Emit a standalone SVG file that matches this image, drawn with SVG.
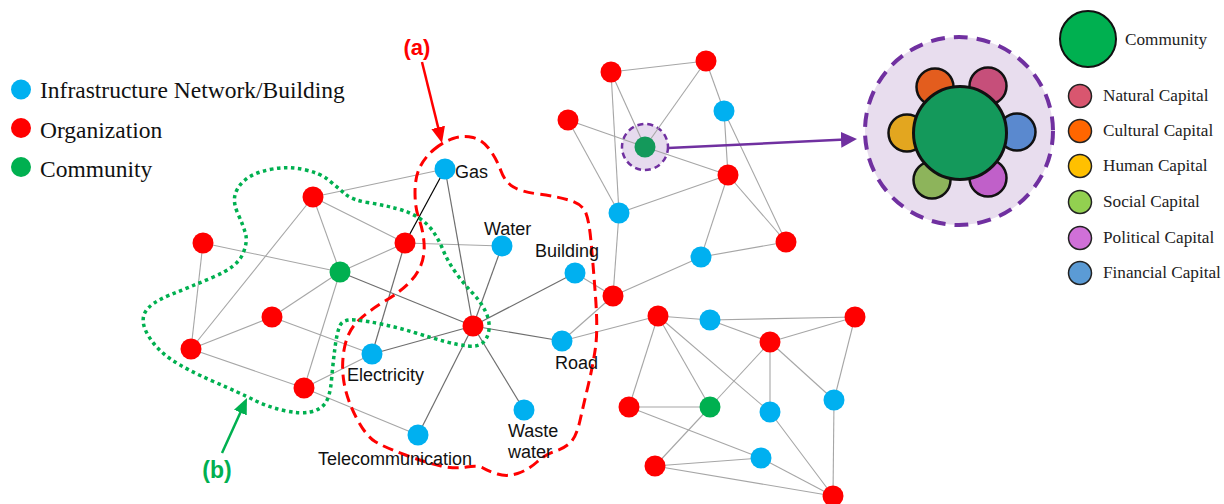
<svg xmlns="http://www.w3.org/2000/svg" width="1224" height="504" viewBox="0 0 1224 504">
<style>
.e{stroke:#A6A6A6;stroke-width:1.1;fill:none}
.d{stroke:#6E6E6E;stroke-width:1.2;fill:none}
.k{stroke:#000;stroke-width:1.2;fill:none}
.org{fill:#FF0000}
.inf{fill:#00B0F0}
.com{fill:#00B050}
.lbl{font-family:"Liberation Sans",Arial,sans-serif;font-size:18px;fill:#111}
.leg{font-family:"Liberation Serif","Times New Roman",serif;font-size:23.5px;fill:#111}
.leg2{font-family:"Liberation Serif","Times New Roman",serif;font-size:17.2px;fill:#222}
.cap{stroke:#111;stroke-width:2.5}
.lc{stroke:#222;stroke-width:1.5}
</style>
<defs>
<marker id="ahR" viewBox="0 0 16 14" refX="4" refY="7" markerWidth="16" markerHeight="14" markerUnits="userSpaceOnUse" orient="auto"><path d="M0,0 L16,7 L0,14 z" fill="#FF0000"/></marker>
<marker id="ahG" viewBox="0 0 16 14" refX="4" refY="7" markerWidth="16" markerHeight="14" markerUnits="userSpaceOnUse" orient="auto"><path d="M0,0 L16,7 L0,14 z" fill="#00B050"/></marker>
<marker id="ahP" viewBox="0 0 16 16" refX="4" refY="8" markerWidth="16" markerHeight="16" markerUnits="userSpaceOnUse" orient="auto"><path d="M0,0 L16,8 L0,16 z" fill="#7030A0"/></marker>
</defs>
<rect width="1224" height="504" fill="#fff"/>

<g id="legend">
<circle cx="21" cy="89.5" r="10" class="inf"/>
<text x="40" y="98" class="leg">Infrastructure Network/Building</text>
<circle cx="21" cy="128" r="10" class="org"/>
<text x="40" y="138" class="leg">Organization</text>
<circle cx="21" cy="167" r="10" class="com"/>
<text x="40" y="177" class="leg">Community</text>
</g>

<g id="halo">
<circle cx="645" cy="147" r="23" fill="#E6DAEE" stroke="#7030A0" stroke-width="2.5" stroke-dasharray="6 4"/>
</g>

<g id="connectors">
<line class="e" x1="313" y1="197" x2="405" y2="243"/>
<line class="e" x1="313" y1="197" x2="340" y2="272"/>
<line class="e" x1="313" y1="197" x2="191" y2="349"/>
<line class="e" x1="313" y1="197" x2="445" y2="169"/>
<line class="e" x1="203" y1="243" x2="340" y2="272"/>
<line class="e" x1="203" y1="243" x2="191" y2="349"/>
<line class="e" x1="340" y1="272" x2="405" y2="243"/>
<line class="e" x1="340" y1="272" x2="272" y2="317"/>
<line class="e" x1="340" y1="272" x2="304" y2="388"/>
<line class="e" x1="272" y1="317" x2="191" y2="349"/>
<line class="e" x1="272" y1="317" x2="372" y2="354"/>
<line class="e" x1="191" y1="349" x2="304" y2="388"/>
<line class="d" x1="405" y1="243" x2="372" y2="354"/>
<line class="e" x1="304" y1="388" x2="372" y2="354"/>
<line class="e" x1="304" y1="388" x2="418" y2="435"/>
<line class="e" x1="405" y1="243" x2="502" y2="246"/>
<line class="k" x1="445" y1="169" x2="405" y2="243"/>
<line class="d" x1="340" y1="272" x2="473" y2="326"/>
<line class="d" x1="473" y1="326" x2="372" y2="354"/>
<line class="d" x1="473" y1="326" x2="575" y2="273"/>
<line class="d" x1="473" y1="326" x2="562" y2="341"/>
<line class="d" x1="473" y1="326" x2="418" y2="435"/>
<line class="d" x1="473" y1="326" x2="524" y2="410"/>
<line class="d" x1="473" y1="326" x2="445" y2="169"/>
<line class="d" x1="473" y1="326" x2="502" y2="246"/>
<line class="e" x1="611" y1="72" x2="706" y2="61"/>
<line class="e" x1="611" y1="72" x2="645" y2="147"/>
<line class="e" x1="611" y1="72" x2="619" y2="213"/>
<line class="e" x1="706" y1="61" x2="645" y2="147"/>
<line class="e" x1="706" y1="61" x2="724" y2="111"/>
<line class="e" x1="568" y1="120" x2="645" y2="147"/>
<line class="e" x1="568" y1="120" x2="619" y2="213"/>
<line class="e" x1="645" y1="147" x2="728" y2="175"/>
<line class="e" x1="724" y1="111" x2="728" y2="175"/>
<line class="e" x1="724" y1="111" x2="786" y2="242"/>
<line class="e" x1="728" y1="175" x2="619" y2="213"/>
<line class="e" x1="728" y1="175" x2="786" y2="242"/>
<line class="e" x1="728" y1="175" x2="701" y2="257"/>
<line class="e" x1="701" y1="257" x2="786" y2="242"/>
<line class="e" x1="619" y1="213" x2="613" y2="296"/>
<line class="e" x1="701" y1="257" x2="613" y2="296"/>
<line class="e" x1="575" y1="273" x2="613" y2="296"/>
<line class="e" x1="562" y1="341" x2="613" y2="296"/>
<line class="e" x1="562" y1="341" x2="658" y2="316"/>
<line class="e" x1="658" y1="316" x2="710" y2="320"/>
<line class="e" x1="658" y1="316" x2="629" y2="407"/>
<line class="e" x1="658" y1="316" x2="710" y2="407"/>
<line class="e" x1="658" y1="316" x2="770" y2="412"/>
<line class="e" x1="710" y1="320" x2="855" y2="317"/>
<line class="e" x1="710" y1="320" x2="770" y2="342"/>
<line class="e" x1="770" y1="342" x2="855" y2="317"/>
<line class="e" x1="855" y1="317" x2="834" y2="400"/>
<line class="e" x1="770" y1="342" x2="710" y2="407"/>
<line class="e" x1="770" y1="342" x2="770" y2="412"/>
<line class="e" x1="770" y1="342" x2="834" y2="400"/>
<line class="e" x1="629" y1="407" x2="710" y2="407"/>
<line class="e" x1="629" y1="407" x2="761" y2="458"/>
<line class="e" x1="710" y1="407" x2="655" y2="466"/>
<line class="e" x1="655" y1="466" x2="761" y2="458"/>
<line class="e" x1="655" y1="466" x2="833" y2="496"/>
<line class="e" x1="761" y1="458" x2="833" y2="496"/>
<line class="e" x1="770" y1="412" x2="833" y2="496"/>
<line class="e" x1="834" y1="400" x2="833" y2="496"/>
<line stroke="#7030A0" stroke-width="2.5" x1="668" y1="148" x2="845" y2="139.6" marker-end="url(#ahP)"/>
<line stroke="#FF0000" stroke-width="2.5" x1="422" y1="62" x2="439.1" y2="131.3" marker-end="url(#ahR)"/>
<line stroke="#00B050" stroke-width="2.5" x1="222" y1="453" x2="242" y2="408.9" marker-end="url(#ahG)"/>
</g>

<g id="region-a">
<path fill="none" stroke="#FF0000" stroke-width="3" stroke-dasharray="11 6" d="M434,149.5 Q443,142 453,138.5 Q463,135 473,137.5 Q483,140 490,150 Q497,160 501,171 Q505,182 513.5,187 Q522,192 538.5,194 Q555,196 568.5,200 Q582,204 585.5,212 Q589,220 591,241.5 Q593,263 595.5,296.5 Q598,330 595.5,347.5 Q593,365 588.5,384 Q584,403 580,420.5 Q576,438 569.5,443.5 Q563,449 554.5,451.5 Q546,454 537,462 Q528,470 517.5,473.5 Q507,477 497.5,474 Q488,471 483,468 Q478,465 466.5,467 Q455,469 441,466 Q427,463 405.5,455 Q384,447 375,441.5 Q366,436 356.5,418 Q347,400 344,382.5 Q341,365 344.5,347.5 Q348,330 359,320 Q370,310 385,301 Q400,292 408.5,283.5 Q417,275 421,265 Q425,255 424,242.5 Q423,230 419,219 Q415,208 415,192.5 Q415,177 420,167 Q425,157 434,149.5 Z"/>
</g>
<g id="region-b">
<path fill="none" stroke="#00B050" stroke-width="3.5" stroke-dasharray="3.5 3.5" d="M270,169.5 Q287,166 303.5,169.5 Q320,173 328.5,180 Q337,187 344.5,193.5 Q352,200 367.5,202.5 Q383,205 396.5,208.5 Q410,212 419,218 Q428,224 433.5,232 Q439,240 443.5,251 Q448,262 456,273 Q464,284 472.5,293 Q481,302 485.5,311.5 Q490,321 489,329.5 Q488,338 483,342.5 Q478,347 468,346 Q458,345 445,341.5 Q432,338 416,333 Q400,328 383.5,324.5 Q367,321 355,320 Q343,319 340,325.5 Q337,332 335,347.5 Q333,363 331.5,380 Q330,397 325,403.5 Q320,410 310,412 Q300,414 284,410.5 Q268,407 254,400 Q240,393 213.5,381.5 Q187,370 172,360 Q157,350 148.5,336 Q140,322 145,312.5 Q150,303 170,295 Q190,287 213.5,277 Q237,267 242.5,254.5 Q248,242 245.5,233.5 Q243,225 238,214 Q233,203 235,195 Q237,187 245,180 Q253,173 270,169.5 Z"/>
</g>

<g id="nodes">
<circle id="n-r1" cx="313" cy="197" r="10.5" class="org"/>
<circle id="n-r2" cx="203" cy="243" r="10.5" class="org"/>
<circle id="n-r3" cx="405" cy="243" r="10.5" class="org"/>
<circle id="n-g1" cx="340" cy="272" r="10.5" class="com"/>
<circle id="n-r4" cx="272" cy="317" r="10.5" class="org"/>
<circle id="n-r5" cx="191" cy="349" r="10.5" class="org"/>
<circle id="n-r6" cx="304" cy="388" r="10.5" class="org"/>
<circle id="n-r7" cx="473" cy="326" r="10.5" class="org"/>
<circle id="n-r8" cx="611" cy="72" r="10.5" class="org"/>
<circle id="n-r9" cx="706" cy="61" r="10.5" class="org"/>
<circle id="n-b1" cx="724" cy="111" r="10.5" class="inf"/>
<circle id="n-r10" cx="568" cy="120" r="10.5" class="org"/>
<circle id="n-g2" cx="645" cy="147" r="10.5" fill="#14995B"/>
<circle id="n-r11" cx="728" cy="175" r="10.5" class="org"/>
<circle id="n-b2" cx="619" cy="213" r="10.5" class="inf"/>
<circle id="n-r12" cx="786" cy="242" r="10.5" class="org"/>
<circle id="n-b3" cx="701" cy="257" r="10.5" class="inf"/>
<circle id="n-r13" cx="613" cy="296" r="10.5" class="org"/>
<circle id="n-r14" cx="658" cy="316" r="10.5" class="org"/>
<circle id="n-b4" cx="710" cy="320" r="10.5" class="inf"/>
<circle id="n-r15" cx="855" cy="317" r="10.5" class="org"/>
<circle id="n-r16" cx="770" cy="342" r="10.5" class="org"/>
<circle id="n-r17" cx="629" cy="407" r="10.5" class="org"/>
<circle id="n-g3" cx="710" cy="407" r="10.5" class="com"/>
<circle id="n-b5" cx="770" cy="412" r="10.5" class="inf"/>
<circle id="n-b6" cx="834" cy="400" r="10.5" class="inf"/>
<circle id="n-r18" cx="655" cy="466" r="10.5" class="org"/>
<circle id="n-b7" cx="761" cy="458" r="10.5" class="inf"/>
<circle id="n-r19" cx="833" cy="496" r="10.5" class="org"/>
</g>
<g id="n-gas"><circle cx="445" cy="169" r="10.5" class="inf"/><text x="455" y="178" class="lbl">Gas</text></g>
<g id="n-water"><circle cx="502" cy="246" r="10.5" class="inf"/><text x="484" y="235" class="lbl">Water</text></g>
<g id="n-building"><circle cx="575" cy="273" r="10.5" class="inf"/><text x="535" y="257" class="lbl">Building</text></g>
<g id="n-road"><circle cx="562" cy="341" r="10.5" class="inf"/><text x="555" y="369" class="lbl">Road</text></g>
<g id="n-electricity"><circle cx="372" cy="354" r="10.5" class="inf"/><text x="347" y="381" class="lbl">Electricity</text></g>
<g id="n-waste"><circle cx="524" cy="410" r="10.5" class="inf"/><text x="508" y="437" class="lbl">Waste</text><text x="508" y="458" class="lbl">water</text></g>
<g id="n-telecom"><circle cx="418" cy="435" r="10.5" class="inf"/><text x="318" y="465" class="lbl">Telecommunication</text></g>

<g id="label-a"><text x="417" y="55" text-anchor="middle" font-family="Liberation Sans, Arial, sans-serif" font-weight="bold" font-size="22" fill="#FF0000">(a)</text></g>
<g id="label-b"><text x="217" y="478" text-anchor="middle" font-family="Liberation Sans, Arial, sans-serif" font-weight="bold" font-size="23" fill="#00B050">(b)</text></g>

<g id="community-detail">
<circle cx="959" cy="131" r="94" fill="#E8DDEE" stroke="#7030A0" stroke-width="4" stroke-dasharray="14 9"/>
<circle cx="935" cy="87" r="18.5" fill="#E35D1E" class="cap"/>
<circle cx="988" cy="86" r="18.5" fill="#C64F7A" class="cap"/>
<circle cx="907" cy="133" r="18.5" fill="#E3A61F" class="cap"/>
<circle cx="1017" cy="132" r="18.5" fill="#5A89CF" class="cap"/>
<circle cx="932" cy="180" r="18.5" fill="#8DB45B" class="cap"/>
<circle cx="988" cy="178" r="18.5" fill="#C060C9" class="cap"/>
<circle cx="960" cy="133" r="46.5" fill="#14995B" stroke="#111" stroke-width="3"/>
</g>

<g id="capital-legend">
<circle cx="1088" cy="39" r="28" fill="#00B050" stroke="#111" stroke-width="2"/>
<text x="1125" y="45" class="leg2">Community</text>
<circle cx="1080" cy="96" r="11.5" fill="#D9566F" class="lc"/>
<text x="1103" y="101" class="leg2">Natural Capital</text>
<circle cx="1080" cy="131" r="11.5" fill="#FF6600" class="lc"/>
<text x="1103" y="136" class="leg2">Cultural Capital</text>
<circle cx="1080" cy="166" r="11.5" fill="#FFC000" class="lc"/>
<text x="1103" y="171" class="leg2">Human Capital</text>
<circle cx="1080" cy="202" r="11.5" fill="#92D050" class="lc"/>
<text x="1103" y="207" class="leg2">Social Capital</text>
<circle cx="1080" cy="238" r="11.5" fill="#D070D8" class="lc"/>
<text x="1103" y="243" class="leg2">Political Capital</text>
<circle cx="1080" cy="273" r="11.5" fill="#5B9BD5" class="lc"/>
<text x="1103" y="278" class="leg2">Financial Capital</text>
</g>
</svg>
